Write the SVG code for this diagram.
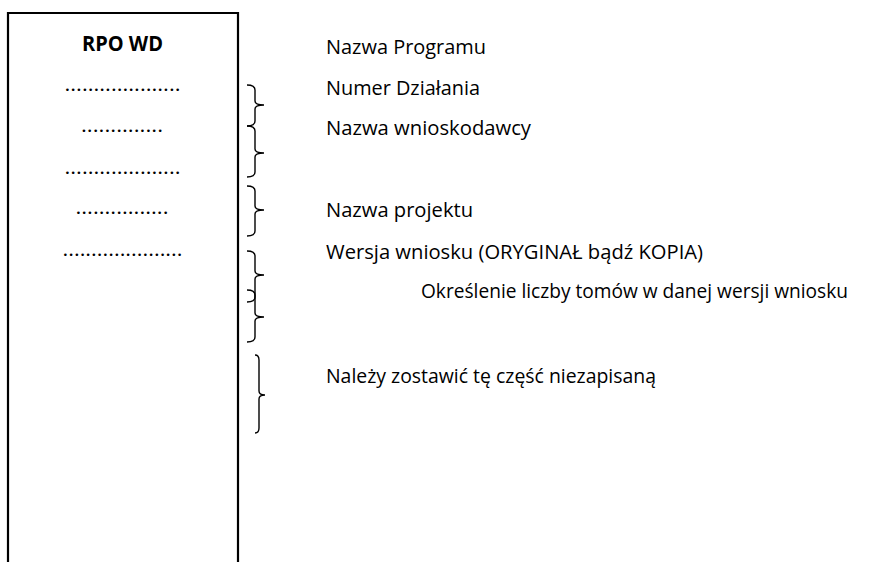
<svg xmlns="http://www.w3.org/2000/svg" width="879" height="562" viewBox="0 0 879 562">
<style>
  .t { font-family: "Open Sans", "Noto Sans", "DejaVu Sans", sans-serif; font-size: 20.5px; fill: #000; }
  .b { font-weight: bold; }
  .dots { font-family: "Open Sans", "Noto Sans", sans-serif; font-size: 20.5px; fill: #000; text-anchor: middle; }
  .box { fill: none; stroke: #000; stroke-width: 2.2; }
  .brace { fill: none; stroke: #000; stroke-width: 1.4; stroke-linejoin: miter; }
</style>
<rect width="879" height="562" fill="#fff"/>
<g id="envelope">
  <path class="box" d="M8,562 V13 H238 V562"/>
  <text class="t b" x="82" y="51" textLength="81" lengthAdjust="spacingAndGlyphs">RPO WD</text>
  <text class="dots" x="122.5" y="91" textLength="116" lengthAdjust="spacingAndGlyphs">....................</text>
  <text class="dots" x="122" y="132" textLength="82" lengthAdjust="spacingAndGlyphs">..............</text>
  <text class="dots" x="122.5" y="174" textLength="116" lengthAdjust="spacingAndGlyphs">....................</text>
  <text class="dots" x="122" y="214" textLength="93" lengthAdjust="spacingAndGlyphs">................</text>
  <text class="dots" x="122.5" y="256" textLength="120" lengthAdjust="spacingAndGlyphs">.....................</text>
</g>
<g id="connectors">
  <path class="brace" d="M247,85 Q255,85 255,90 V101 Q255,105 264,105 Q255,105 255,109 V121 Q255,126 247,126"/>
  <path class="brace" d="M247,126 Q255,126 255,131 V149 Q255,153 264,153 Q255,153 255,157 V172 Q255,177 247,177"/>
  <path class="brace" d="M247,186 Q255,186 255,191 V206 Q255,210 264,210 Q255,210 255,214 V231 Q255,236 247,236"/>
  <path class="brace" d="M247,251 Q255,251 255,256 V271 Q255,275 264,275 Q255,275 255,279 V297 Q255,302 247,302"/>
  <path class="brace" d="M247,290 Q255,290 255,295 V313 Q255,317 264,317 Q255,317 255,321 V337 Q255,342 247,342"/>
  <path class="brace" d="M255,355 Q259,355 259,360 V391 Q259,395 265,395 Q259,395 259,399 V428 Q259,433 255,433"/>
</g>
<g id="label-program"><text class="t" x="326" y="54" textLength="160" lengthAdjust="spacingAndGlyphs">Nazwa Programu</text></g>
<g id="label-dzialanie"><text class="t" x="326" y="95" textLength="154" lengthAdjust="spacingAndGlyphs">Numer Działania</text></g>
<g id="label-wnioskodawca"><text class="t" x="326" y="135" textLength="205" lengthAdjust="spacingAndGlyphs">Nazwa wnioskodawcy</text></g>
<g id="label-projekt"><text class="t" x="326" y="217" textLength="147" lengthAdjust="spacingAndGlyphs">Nazwa projektu</text></g>
<g id="label-wersja"><text class="t" x="326" y="259" textLength="377" lengthAdjust="spacingAndGlyphs">Wersja wniosku (ORYGINAŁ bądź KOPIA)</text></g>
<g id="label-tomy"><text class="t" x="421" y="298" textLength="427" lengthAdjust="spacingAndGlyphs">Określenie liczby tomów w danej wersji wniosku</text></g>
<g id="label-niezapisana"><text class="t" x="326" y="383" textLength="330" lengthAdjust="spacingAndGlyphs">Należy zostawić tę część niezapisaną</text></g>
</svg>
